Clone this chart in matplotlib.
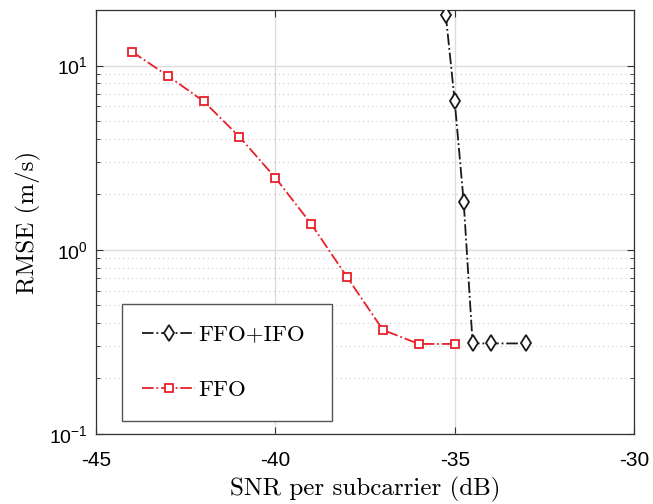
import matplotlib
matplotlib.use("Agg")
import matplotlib.pyplot as plt
from matplotlib.ticker import LogLocator, NullFormatter

plt.rcParams['mathtext.fontset'] = 'custom'
plt.rcParams['mathtext.rm'] = 'Liberation Sans'
plt.rcParams['mathtext.it'] = 'Liberation Sans:italic'
plt.rcParams['mathtext.default'] = 'regular'
plt.rcParams['font.family'] = ['Liberation Sans', 'DejaVu Sans']

snr_ffo = [-44, -43, -42, -41, -40, -39, -38, -37, -36, -35]
rmse_ffo = [11.9, 8.8, 6.4, 4.1, 2.46, 1.38, 0.71, 0.367, 0.308, 0.308]

snr_both = [-35.25, -35, -34.75, -34.5, -34, -33]
rmse_both = [18.9, 6.4, 1.82, 0.31, 0.31, 0.31]

labels = ['FFO+IFO', 'FFO']
xticks = [-45, -40, -35, -30]

fig = plt.figure(figsize=(6.53, 5.04), dpi=100)
ax = fig.add_axes([0.147, 0.139, 0.824, 0.841])

red = '#e8202a'
ax.plot(snr_both, rmse_both, linestyle='-.', color='#1a1a1a', lw=1.3,
        marker='d', markersize=8, markerfacecolor='white', markeredgewidth=1.3,
        label=labels[0], zorder=3)
ax.plot(snr_ffo, rmse_ffo, linestyle='-.', color=red, lw=1.3,
        marker='s', markersize=6, markerfacecolor='white', markeredgewidth=1.3,
        label=labels[1], zorder=3)

ax.set_yscale('log')
ax.set_xlim(-45, -30)
ax.set_ylim(0.1, 20)
ax.set_xticks(xticks)
ax.set_xticklabels([str(t) for t in xticks])
ax.yaxis.set_major_locator(LogLocator(base=10, numticks=10))
ax.yaxis.set_minor_locator(LogLocator(base=10, subs=range(2, 10), numticks=20))
ax.yaxis.set_minor_formatter(NullFormatter())

ax.grid(True, which='major', color='#dcdcdc', lw=1.0, linestyle='-')
ax.grid(True, which='minor', axis='y', color='#c8c8c8', lw=0.8, linestyle=(0, (1, 3)))
ax.set_axisbelow(True)

ax.tick_params(which='both', direction='in', top=True, right=True, color='#333333')
ax.tick_params(axis='x', which='major', labelsize=15, pad=12)
ax.tick_params(axis='y', which='major', labelsize=14, pad=6)
ax.tick_params(which='major', length=5)
ax.tick_params(which='minor', length=3)
for s in ax.spines.values():
    s.set_color('#333333')
    s.set_linewidth(0.9)

ax.set_xlabel('SNR per subcarrier (dB)', fontfamily='cmr10', fontsize=18, labelpad=5)
ax.set_ylabel('RMSE (m/s)', fontfamily='cmr10', fontsize=18, labelpad=6)

leg = ax.legend(loc='lower left', bbox_to_anchor=(0.048, 0.031, 0.391, 0.28),
                mode='expand', prop={'family': 'cmr10', 'size': 16.5},
                handlelength=2.3, labelspacing=1.55, borderpad=0.9, borderaxespad=0,
                fancybox=False, framealpha=1, edgecolor='#555555', handletextpad=0.15)
leg.get_frame().set_linewidth(1.0)

fig.savefig('out.png', dpi=100)
